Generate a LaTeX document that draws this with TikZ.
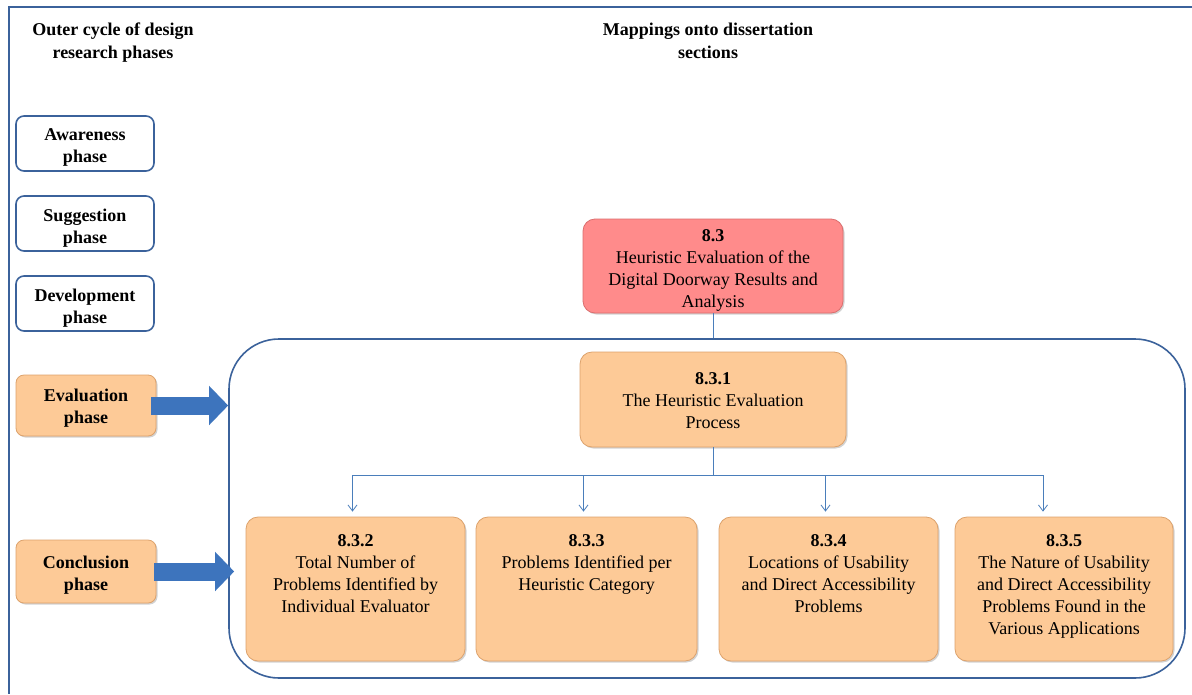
\documentclass[tikz,border=0pt]{standalone}
\usepackage{fontspec}
\setmainfont{Liberation Serif}
\usetikzlibrary{arrows.meta,shadows,calc}
\definecolor{frameblue}{HTML}{3B629B}
\definecolor{connblue}{HTML}{4A7EBB}
\definecolor{arrowblue}{HTML}{3D74BD}
\definecolor{orangefill}{HTML}{FDCA97}
\definecolor{orangeedge}{HTML}{DDA26C}
\definecolor{redfill}{HTML}{FF8B8B}
\definecolor{rededge}{HTML}{DB6E6E}
\tikzset{
  txt/.style={font=\fontsize{18}{22}\selectfont},
  titletext/.style={font=\bfseries\fontsize{18}{23}\selectfont, align=center, inner sep=0},
  framepath/.style={draw=frameblue, line width=1.6pt},
  phasebox/.style={draw=frameblue, line width=1.6pt, fill=white, rounded corners=8pt,
     minimum width=138pt, minimum height=55pt, inner sep=0,
     font=\bfseries\fontsize{18}{22}\selectfont},
  phaseact/.style={phasebox, draw=orangeedge, line width=0.8pt, fill=orangefill,
     drop shadow={shadow xshift=1.5pt, shadow yshift=-1.5pt, opacity=0.35}},
  secbox/.style={draw=orangeedge, line width=0.8pt, fill=orangefill, rounded corners=12pt,
     inner sep=0, txt,
     drop shadow={shadow xshift=1.5pt, shadow yshift=-1.5pt, opacity=0.35}},
  redbox/.style={secbox, draw=rededge, fill=redfill},
  groupbox/.style={draw=frameblue, line width=1.6pt, rounded corners=50pt, inner sep=0},
  conn/.style={draw=connblue, line width=0.8pt},
  connarrow/.style={conn, -{Straight Barb[length=6pt,width=9pt]}, shorten >=5pt},
  blockarrow/.style={draw=arrowblue, line width=18pt, -{Triangle[length=19pt,width=38pt]}},
}
% #1 width, #2 height, #3 top padding, #4 text
\newcommand{\padtext}[4]{\parbox[c][#2][t]{#1}{\centering\vspace*{#3}#4}}
\begin{document}
\begin{tikzpicture}[x=1pt,y=-1pt]
\useasboundingbox (0,0) rectangle (1192,694);
\fill[white] (0,0) rectangle (1192,694);
% outer frame
\draw[framepath] (1192,7) -- (9,7) -- (9,694);

% titles
\node[titletext] (tl) at (113,43) {Outer cycle of design\\research phases};
\node[titletext] (tr) at (708,41) {Mappings onto dissertation\\sections};

% phase boxes
\node[phasebox] (aw) at (85,143.5) {\padtext{136pt}{55pt}{13pt}{Awareness\\phase}};
\node[phasebox] (su) at (85,223.5) {\padtext{136pt}{55pt}{13pt}{Suggestion\\phase}};
\node[phasebox] (de) at (85,303.5) {\padtext{136pt}{55pt}{13pt}{Development\\phase}};
\node[phaseact, minimum width=140pt, minimum height=61pt] (ev) at (86,405.5)
  {\padtext{138pt}{61pt}{14pt}{Evaluation\\phase}};
\node[phaseact, minimum width=140pt, minimum height=63pt] (co) at (86,571.5)
  {\padtext{138pt}{63pt}{16pt}{Conclusion\\phase}};

% group container
\node[groupbox, minimum width=956pt, minimum height=339pt] (grp) at (707,508.5) {};

% block arrows
\draw[blockarrow] ([xshift=-5pt]ev.east) -- (ev.east -| grp.west);
\draw[blockarrow] ([xshift=-2pt]co.east) -- ([xshift=6pt]co.east -| grp.west);

% section boxes
\node[redbox, minimum width=260pt, minimum height=94pt] (s83) at (713,266)
  {\padtext{256pt}{94pt}{11pt}{\textbf{8.3}\\Heuristic Evaluation of the\\Digital Doorway Results and\\Analysis}};
\node[secbox, minimum width=266pt, minimum height=95pt] (s831) at (713,399.5)
  {\padtext{262pt}{95pt}{21pt}{\textbf{8.3.1}\\The Heuristic Evaluation\\Process}};

\node[secbox, minimum width=219pt, minimum height=144pt] (s832) at (355.5,589)
  {\padtext{215pt}{144pt}{18pt}{\textbf{8.3.2}\\Total Number of\\Problems Identified by\\Individual Evaluator}};
\node[secbox, minimum width=221pt, minimum height=144pt] (s833) at (586.5,589)
  {\padtext{217pt}{144pt}{18pt}{\textbf{8.3.3}\\Problems Identified per\\Heuristic Category}};
\node[secbox, minimum width=219pt, minimum height=144pt] (s834) at (828.5,589)
  {\padtext{215pt}{144pt}{18pt}{\textbf{8.3.4}\\Locations of Usability\\and Direct Accessibility\\Problems}};
\node[secbox, minimum width=218pt, minimum height=144pt] (s835) at (1064,589)
  {\padtext{214pt}{144pt}{18pt}{\textbf{8.3.5}\\The Nature of Usability\\and Direct Accessibility\\Problems Found in the\\Various Applications}};

% connectors
\draw[conn] (s83.south) -- (s83.south |- grp.north);
\coordinate (jn) at ($(s831.south)+(0,28)$);
\draw[conn] (s831.south) -- (jn);
\draw[connarrow] (jn) -| ([xshift=-3pt]s832.north);
\draw[connarrow] (jn) -| ([xshift=-3pt]s833.north);
\draw[connarrow] (jn) -| ([xshift=-3pt]s834.north);
\draw[connarrow] (jn) -| ([xshift=-21pt]s835.north);
\end{tikzpicture}
\end{document}
